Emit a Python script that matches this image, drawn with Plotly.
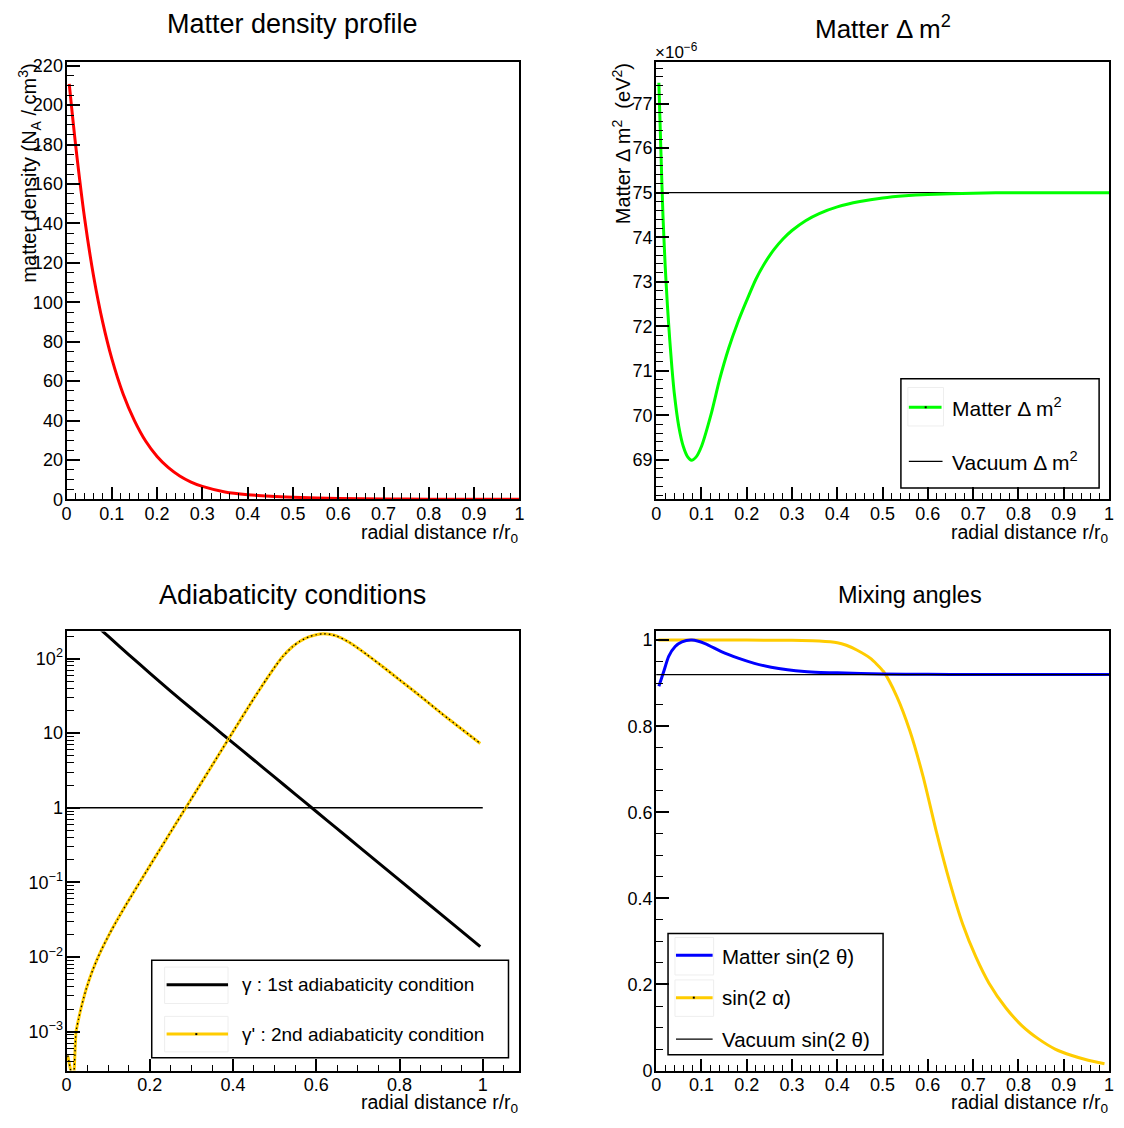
import plotly.graph_objects as go

# page body has an 8px margin; figure fills the rest of the 1124x1128 window
W, H = 1108, 1112
OFF = 8
FONT = "Liberation Sans"

# ---------------- data ----------------
# Panel 1: matter density profile (N_A / cm^3)
density_r = [0.006, 0.02, 0.04, 0.06, 0.08, 0.1, 0.125, 0.15, 0.175, 0.2, 0.225,
             0.25, 0.275, 0.3, 0.35, 0.4, 0.45, 0.5, 0.6, 0.7, 0.8, 0.9, 1.0]
density = [210.8, 180.0, 142.5, 113.0, 89.8, 71.4, 53.5, 40.0, 29.5, 21.8, 16.1,
           11.9, 8.8, 6.6, 3.8, 2.4, 1.6, 1.1, 0.5, 0.22, 0.1, 0.05, 0.02]

# Panel 2: matter delta m^2 (units of 1e-6 eV^2)
dm2_r = [0.006, 0.01, 0.015, 0.02, 0.025, 0.03, 0.035, 0.04, 0.05, 0.06, 0.07,
         0.078, 0.088, 0.1, 0.122, 0.14, 0.16, 0.18, 0.2, 0.22, 0.24, 0.26, 0.28,
         0.3, 0.33, 0.36, 0.4, 0.45, 0.5, 0.55, 0.6, 0.7, 0.8, 0.9, 1.0]
dm2_matter = [77.47, 76.1, 74.5, 73.35, 72.45, 71.7, 71.05, 70.5, 69.75, 69.3, 69.06,
              68.99, 69.06, 69.3, 70.05, 70.8, 71.5, 72.08, 72.58, 73.05, 73.42, 73.72, 73.96,
              74.15, 74.37, 74.53, 74.68, 74.8, 74.88, 74.93, 74.96, 74.99, 75.0, 75.0, 75.0]
dm2_vacuum = 75.0
line_r = [0.0, 1.0]

# Panel 3: adiabaticity conditions
gamma1_r = [0.06, 0.087, 0.1, 0.15, 0.2, 0.25, 0.3, 0.35, 0.4, 0.45, 0.5, 0.55,
            0.6, 0.65, 0.7, 0.8, 0.9, 0.994]
gamma1 = [316.2, 231.7, 199.5, 112.2, 63.8, 36.7, 21.4, 12.59, 7.41, 4.365, 2.570, 1.514,
          0.891, 0.525, 0.309, 0.1072, 0.03715, 0.01374]
gamma2_r = [0.003, 0.016, 0.023, 0.029, 0.035, 0.041, 0.047, 0.055, 0.063, 0.073, 0.083,
            0.103, 0.123, 0.143, 0.183, 0.223, 0.263, 0.3, 0.35, 0.4, 0.45, 0.48, 0.502,
            0.52, 0.542, 0.56, 0.582, 0.6, 0.617, 0.635, 0.65, 0.68, 0.72, 0.76, 0.8,
            0.839, 0.9, 0.918, 0.994]
gamma2 = [4.79e-4, 2.24e-4, 1.0e-3, 1.472e-3, 2.07e-3, 2.79e-3, 3.66e-3, 5.02e-3, 6.67e-3,
          9.14e-3, 0.01216, 0.02023, 0.0322, 0.0500, 0.1164, 0.2685, 0.6166, 1.318, 3.715,
          10.47, 29.2, 52.5, 79.4, 107.2, 142.9, 169.8, 195.0, 208.9, 214.8, 210.0, 199.5,
          164.1, 114.8, 77.6, 51.9, 35.1, 18.6, 15.5, 7.28]
adiab_limit = 1.0

# Panel 4: mixing angles
theta_r = [0.006, 0.0168, 0.0277, 0.042, 0.057, 0.079, 0.108, 0.144, 0.181, 0.217,
           0.254, 0.29, 0.327, 0.363, 0.40, 0.5, 0.6, 0.7, 0.8, 0.9, 1.0]
sin2theta_matter = [0.893, 0.927, 0.962, 0.985, 0.996, 1.0, 0.992, 0.973, 0.958, 0.946,
                    0.937, 0.931, 0.927, 0.925, 0.924, 0.921, 0.9205, 0.920, 0.920, 0.920, 0.920]
alpha_r = [0.005, 0.1, 0.2, 0.3, 0.36, 0.4, 0.42, 0.443, 0.4726, 0.502, 0.531, 0.56, 0.5895,
           0.619, 0.648, 0.677, 0.706, 0.735, 0.772, 0.808, 0.845, 0.881, 0.918,
           0.954, 0.99]
sin2alpha = [1.0, 1.0, 1.0, 0.9995, 0.998, 0.994, 0.988, 0.977, 0.958, 0.927, 0.870, 0.790, 0.683,
             0.554, 0.439, 0.340, 0.264, 0.203, 0.146, 0.104, 0.073, 0.050, 0.035,
             0.024, 0.016]
sin2theta_vacuum = 0.92


# ---------------- helpers ----------------
def px(x):
    return (x - OFF) / W


def py(y):
    return 1 - (y - OFF) / H


RED, GREEN, GOLD, BLUE = "#ff0000", "#00ff00", "#ffcc00", "#0000ff"

fig = go.Figure()

# Panel 1
fig.add_trace(go.Scatter(x=density_r, y=density, mode="lines", xaxis="x", yaxis="y",
                         line=dict(color=RED, width=3, shape="spline", smoothing=0.8),
                         showlegend=False))
# Panel 2
fig.add_trace(go.Scatter(x=line_r, y=[dm2_vacuum, dm2_vacuum], mode="lines", xaxis="x2", yaxis="y2",
                         line=dict(color="black", width=1.3), showlegend=False))
fig.add_trace(go.Scatter(x=dm2_r, y=dm2_matter, mode="lines", xaxis="x2", yaxis="y2",
                         line=dict(color=GREEN, width=3, shape="spline", smoothing=0.6),
                         showlegend=False))
# Panel 3
fig.add_trace(go.Scatter(x=line_r, y=[adiab_limit, adiab_limit], mode="lines", xaxis="x3", yaxis="y3",
                         line=dict(color="black", width=1.3), showlegend=False))
fig.add_trace(go.Scatter(x=gamma1_r, y=gamma1, mode="lines", xaxis="x3", yaxis="y3",
                         line=dict(color="black", width=3, shape="spline", smoothing=0.6),
                         showlegend=False))
fig.add_trace(go.Scatter(x=gamma2_r, y=gamma2, mode="lines", xaxis="x3", yaxis="y3",
                         line=dict(color=GOLD, width=3, shape="spline", smoothing=0.6),
                         showlegend=False))
fig.add_trace(go.Scatter(x=gamma2_r, y=gamma2, mode="lines", xaxis="x3", yaxis="y3",
                         line=dict(color="black", width=1.3, dash="1.5px,3px", shape="spline", smoothing=0.6),
                         showlegend=False))
# Panel 4
fig.add_trace(go.Scatter(x=alpha_r, y=sin2alpha, mode="lines", xaxis="x4", yaxis="y4",
                         line=dict(color=GOLD, width=3, shape="spline", smoothing=0.6),
                         showlegend=False))
fig.add_trace(go.Scatter(x=theta_r, y=sin2theta_matter, mode="lines", xaxis="x4", yaxis="y4",
                         line=dict(color=BLUE, width=3, shape="spline", smoothing=0.6),
                         showlegend=False))
fig.add_trace(go.Scatter(x=line_r, y=[sin2theta_vacuum, sin2theta_vacuum], mode="lines", xaxis="x4", yaxis="y4",
                         line=dict(color="black", width=1.3), showlegend=False))


def axis(domain, rng, anchor, dtick=None, minor_dtick=None, ticklen=12, minorlen=6, standoff=-3, **kw):
    d = dict(domain=domain, range=rng, anchor=anchor, showline=True, linecolor="black",
             linewidth=2, mirror=True, ticks="inside", ticklen=ticklen, tickwidth=1.5,
             tickcolor="black", showgrid=False, zeroline=False, ticklabelstandoff=standoff,
             tickfont=dict(family=FONT, size=18, color="black"))
    if dtick is not None:
        d["dtick"] = dtick
        d["tick0"] = 0
    if minor_dtick is not None:
        d["minor"] = dict(ticks="inside", ticklen=minorlen, tickwidth=1.2, tickcolor="black",
                          dtick=minor_dtick, tick0=0, showgrid=False)
    d.update(kw)
    return d


XL = [px(62), px(519)]
XR = [px(657), px(1114)]
YT = [py(500.5), py(56.5)]
YB = [py(1080), py(634.5)]

layout = dict(
    width=W, height=H, margin=dict(l=0, r=0, t=0, b=0),
    paper_bgcolor="white", plot_bgcolor="white",
    font=dict(family=FONT, color="black"),
    xaxis=axis(XL, [0, 1], "y", 0.1, 0.02),
    yaxis=axis(YT, [0, 222], "x", 20, 5, ticklen=13, minorlen=7, standoff=-2),
    xaxis2=axis(XR, [0, 1], "y2", 0.1, 0.02),
    yaxis2=axis(YT, [68.11, 77.94], "x2", 1, 0.2, ticklen=13, minorlen=7, standoff=-2),
    xaxis3=axis(XL, [0, 1.088], "y3", 0.2, 0.05),
    yaxis3=axis(YB, [-3.523, 2.363], "x3", ticklen=13, minorlen=7, standoff=-2, type="log",
                tickmode="array", tickvals=[1e-3, 1e-2, 1e-1, 1, 10, 100],
                ticktext=["10<sup>−3</sup>", "10<sup>−2</sup>", "10<sup>−1</sup>", "1", "10", "10<sup>2</sup>"],
                minor=dict(ticks="inside", ticklen=7, tickwidth=1.2, tickcolor="black", dtick="D1", showgrid=False)),
    xaxis4=axis(XR, [0, 1], "y4", 0.1, 0.02),
    yaxis4=axis(YB, [0, 1.02], "x4", 0.2, 0.05, ticklen=13, minorlen=7, standoff=-2),
)

ann = []


def text(x, y, s, size, xanchor="center", yanchor="middle", angle=0):
    ann.append(dict(x=px(x), y=py(y), xref="paper", yref="paper", text=s, showarrow=False,
                    xanchor=xanchor, yanchor=yanchor, textangle=angle,
                    font=dict(family=FONT, size=size, color="black")))


# titles
text(290, 18, "Matter density profile", 27)
text(886, 22, "Matter Δ m<sup>2</sup>", 26)
text(290, 597, "Adiabaticity conditions", 27)
text(913, 597, "Mixing angles", 23.5)
# x axis titles
for xr, yy in [(519, 535), (1114, 535), (519, 1113), (1114, 1113)]:
    text(xr + 2, yy, "radial distance r/r<sub>0</sub>", 19.5, xanchor="right")
# y axis titles
text(25, 56, "matter density (N<sub>A</sub> / cm<sup>3</sup>)", 20, yanchor="top", angle=-90)
text(622, 56, "Matter Δ m<sup>2</sup>  (eV<sup>2</sup>)", 20, yanchor="top", angle=-90)
text(654, 46, "×10<sup>−6</sup>", 17, xanchor="left")

shapes = []


def rect(x0, y0, x1, y1, color="black", width=1.5):
    shapes.append(dict(type="rect", xref="paper", yref="paper", x0=px(x0), x1=px(x1),
                       y0=py(y1), y1=py(y0), line=dict(color=color, width=width),
                       fillcolor="rgba(0,0,0,0)"))


def seg(x0, x1, y, color, width):
    shapes.append(dict(type="line", xref="paper", yref="paper", x0=px(x0), x1=px(x1),
                       y0=py(y), y1=py(y), line=dict(color=color, width=width)))


def dot(x, y):
    shapes.append(dict(type="rect", xref="paper", yref="paper", x0=px(x - 1), x1=px(x + 1),
                       y0=py(y + 1), y1=py(y - 1), line=dict(width=0), fillcolor="black"))


# legend panel 2
rect(904, 378, 1104, 489, width=1.5)
rect(911, 387, 947, 426, color="#eeeeee", width=1)
seg(912, 945, 407, GREEN, 3)
dot(929, 407)
text(954, 407, "Matter Δ m<sup>2</sup>", 21, xanchor="left")
seg(912, 946, 462, "black", 1.3)
text(954, 462, "Vacuum Δ m<sup>2</sup>", 21, xanchor="left")

# legend panel 3
rect(148, 968, 508, 1067, width=1.5)
rect(161, 975, 225, 1012, color="#eeeeee", width=1)
seg(163, 225, 993, "black", 3)
text(237, 993, "γ : 1st adiabaticity condition", 19, xanchor="left")
rect(161, 1025, 225, 1061, color="#eeeeee", width=1)
seg(163, 225, 1043, GOLD, 3)
dot(193, 1043)
text(237, 1043, "γ' : 2nd adiabaticity condition", 19, xanchor="left")

# legend panel 4
rect(669, 941, 886, 1064, width=1.5)
rect(676, 945, 715, 983, color="#eeeeee", width=1)
seg(677, 714, 963, BLUE, 3)
text(721, 964, "Matter sin(2 θ)", 20.5, xanchor="left")
rect(676, 988, 715, 1025, color="#eeeeee", width=1)
seg(677, 714, 1006, GOLD, 3)
dot(695, 1006)
text(721, 1006, "sin(2 α)", 20.5, xanchor="left")
seg(677, 714, 1048, "black", 1.3)
text(721, 1048, "Vacuum sin(2 θ)", 20.5, xanchor="left")

layout["annotations"] = ann
layout["shapes"] = shapes
fig.update_layout(**layout)
fig.write_html("out.html")
